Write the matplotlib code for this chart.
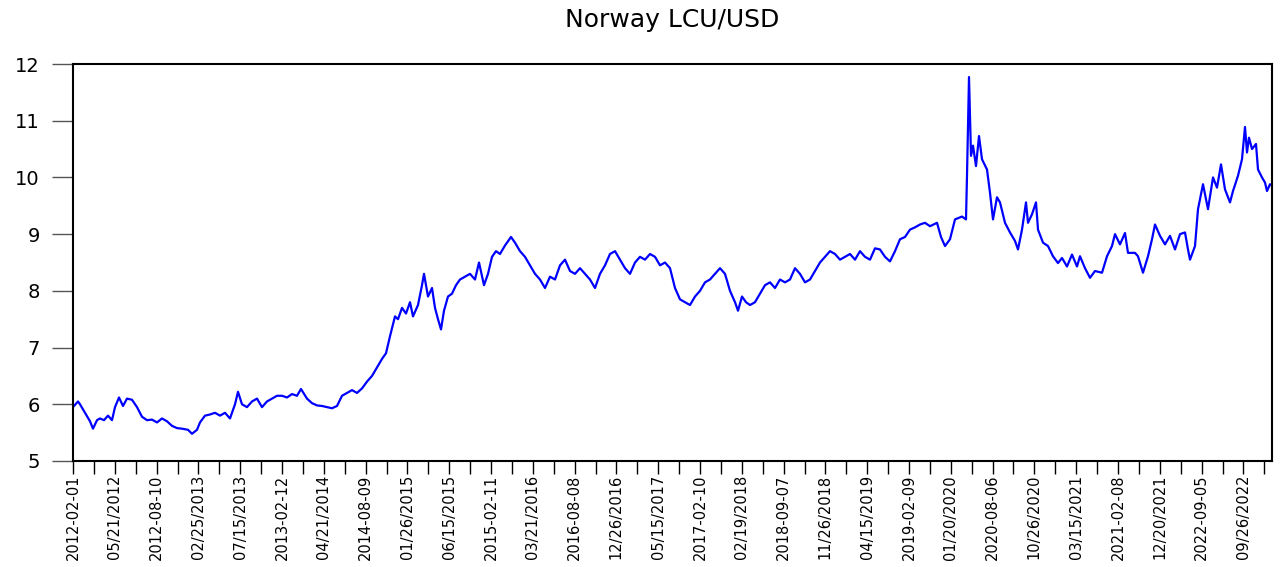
import matplotlib
matplotlib.use("Agg")
import matplotlib.pyplot as plt
import matplotlib.transforms as mtransforms

# observation number (business-day index) and exchange rate values
obs = [0, 10, 14, 24, 34, 40, 48, 54, 62, 70,
       78, 84, 92, 100, 108, 118, 128, 138, 148, 158,
       168, 178, 188, 198, 208, 218, 230, 238, 248, 254,
       264, 274, 284, 294, 304, 314, 324, 330, 338, 348,
       358, 368, 378, 388, 398, 408, 418, 428, 438, 448,
       456, 468, 478, 488, 498, 508, 518, 528, 538, 548,
       558, 568, 578, 588, 598, 608, 618, 626, 634, 644,
       650, 658, 666, 674, 680, 690, 698, 702, 710, 718,
       724, 730, 736, 742, 750, 758, 766, 774, 784, 794,
       804, 812, 822, 830, 838, 846, 854, 864, 876, 884,
       894, 904, 914, 924, 934, 944, 954, 964, 974, 984,
       994, 1004, 1014, 1024, 1034, 1044, 1054, 1064, 1074, 1084,
       1094, 1104, 1114, 1124, 1134, 1144, 1154, 1164, 1174, 1184,
       1194, 1204, 1214, 1224, 1234, 1244, 1254, 1264, 1274, 1284,
       1294, 1304, 1314, 1324, 1330, 1338, 1346, 1354, 1364, 1374,
       1384, 1394, 1404, 1414, 1424, 1434, 1444, 1454, 1464, 1474,
       1484, 1494, 1504, 1514, 1524, 1534, 1544, 1554, 1564, 1574,
       1584, 1594, 1604, 1614, 1624, 1634, 1644, 1654, 1664, 1674,
       1684, 1694, 1704, 1714, 1728, 1736, 1744, 1754, 1764, 1778,
       1786, 1788, 1792, 1796, 1800, 1806, 1812, 1818, 1828, 1834,
       1840, 1848, 1854, 1864, 1874, 1884, 1890, 1898, 1906, 1910,
       1918, 1926, 1930, 1940, 1950, 1960, 1970, 1978, 1988, 1998,
       2008, 2014, 2024, 2034, 2044, 2058, 2068, 2078, 2084, 2094,
       2104, 2110, 2124, 2130, 2140, 2150, 2158, 2164, 2174, 2184,
       2194, 2204, 2214, 2224, 2230, 2234, 2244, 2250, 2260, 2270,
       2280, 2288, 2296, 2304, 2314, 2320, 2330, 2338, 2344, 2348,
       2352, 2358, 2366, 2370, 2378, 2384, 2388, 2394, 2398]

rate = [5.95, 6.05, 6.0, 5.85, 5.7, 5.57, 5.72, 5.75, 5.72, 5.8,
        5.72, 5.95, 6.12, 5.97, 6.1, 6.08, 5.95, 5.78, 5.72, 5.73,
        5.68, 5.75, 5.7, 5.62, 5.58, 5.57, 5.55, 5.48, 5.55, 5.68,
        5.8, 5.82, 5.85, 5.8, 5.85, 5.75, 6.0, 6.22, 6.0, 5.95,
        6.05, 6.1, 5.95, 6.05, 6.1, 6.15, 6.15, 6.12, 6.18, 6.15,
        6.27, 6.1, 6.02, 5.98, 5.97, 5.95, 5.93, 5.97, 6.15, 6.2,
        6.25, 6.2, 6.28, 6.4, 6.5, 6.65, 6.8, 6.9, 7.2, 7.55,
        7.5, 7.7, 7.6, 7.8, 7.55, 7.75, 8.1, 8.3, 7.9, 8.05,
        7.7, 7.5, 7.32, 7.65, 7.9, 7.95, 8.1, 8.2, 8.25, 8.3,
        8.2, 8.5, 8.1, 8.3, 8.6, 8.7, 8.65, 8.8, 8.95, 8.85,
        8.7, 8.6, 8.45, 8.3, 8.2, 8.05, 8.25, 8.2, 8.45, 8.55,
        8.35, 8.3, 8.4, 8.3, 8.2, 8.05, 8.3, 8.45, 8.65, 8.7,
        8.55, 8.4, 8.3, 8.5, 8.6, 8.55, 8.65, 8.6, 8.45, 8.5,
        8.4, 8.05, 7.85, 7.8, 7.75, 7.9, 8.0, 8.15, 8.2, 8.3,
        8.4, 8.3, 8.0, 7.8, 7.65, 7.9, 7.8, 7.75, 7.8, 7.95,
        8.1, 8.15, 8.05, 8.2, 8.15, 8.2, 8.4, 8.3, 8.15, 8.2,
        8.35, 8.5, 8.6, 8.7, 8.65, 8.55, 8.6, 8.65, 8.55, 8.7,
        8.6, 8.55, 8.75, 8.73, 8.6, 8.52, 8.7, 8.91, 8.95, 9.08,
        9.12, 9.17, 9.2, 9.14, 9.2, 8.95, 8.79, 8.91, 9.26, 9.31,
        9.26, 10.03, 11.77, 10.38, 10.56, 10.2, 10.73, 10.32, 10.14, 9.73,
        9.26, 9.65, 9.56, 9.2, 9.03, 8.88, 8.73, 9.08, 9.56, 9.2,
        9.35, 9.56, 9.08, 8.85, 8.79, 8.61, 8.49, 8.58, 8.43, 8.64,
        8.43, 8.61, 8.4, 8.23, 8.35, 8.32, 8.61, 8.79, 9.0, 8.82,
        9.02, 8.67, 8.67, 8.61, 8.32, 8.61, 8.91, 9.17, 8.97, 8.82,
        8.97, 8.73, 9.0, 9.03, 8.73, 8.55, 8.79, 9.44, 9.88, 9.44,
        10.0, 9.82, 10.23, 9.79, 9.56, 9.76, 10.03, 10.32, 10.89, 10.44,
        10.7, 10.5, 10.59, 10.14, 10.0, 9.91, 9.76, 9.88, 9.85]

date_labels = ["2012-02-01", "05/21/2012", "2012-08-10", "02/25/2013", "07/15/2013",
               "2013-02-12", "04/21/2014", "2014-08-09", "01/26/2015", "06/15/2015",
               "2015-02-11", "03/21/2016", "2016-08-08", "12/26/2016", "05/15/2017",
               "2017-02-10", "02/19/2018", "2018-09-07", "11/26/2018", "04/15/2019",
               "2019-02-09", "01/20/2020", "2020-08-06", "10/26/2020", "03/15/2021",
               "2021-02-08", "12/20/2021", "2022-09-05", "09/26/2022"]

y_ticks = [5, 6, 7, 8, 9, 10, 11, 12]
title = "Norway LCU/USD"

plt.rcParams['font.family'] = ['DejaVu Sans']

fig = plt.figure(figsize=(12.8, 5.67), dpi=100)
ax = fig.add_axes([73/1280, (567-461)/567, (1272-73)/1280, (461-64)/567])

ax.plot(obs, rate, color="#0000ff", linewidth=1.6)

ax.set_xlim(0, 2398)
ax.set_ylim(5, 12)

tick_step = 41.8
n_ticks = 2 * len(date_labels)
xt = [i * tick_step for i in range(n_ticks)]
xl = []
for i in range(n_ticks):
    xl.append(date_labels[i // 2] if i % 2 == 0 else "")
ax.set_xticks(xt)
ax.set_xticklabels(xl, rotation=90, fontsize=10.5, va="top", ha="center")
offset = mtransforms.ScaledTranslation(-9/100, 0, fig.dpi_scale_trans)
for lab in ax.get_xticklabels():
    lab.set_transform(lab.get_transform() + offset)

ax.set_yticks(y_ticks)
ax.set_yticklabels([str(v) for v in y_ticks], fontsize=14)

ax.tick_params(axis="x", direction="out", length=9, width=1.0, pad=1, colors="black")
ax.tick_params(axis="y", direction="out", length=15, width=1.0, pad=9, colors="black")
ax.tick_params(axis="y", color="#555555")
for s in ax.spines.values():
    s.set_linewidth(1.5)
    s.set_color("black")

fig.text(672/1280, 1 - 20/567, title, ha="center", va="center", fontsize=18)

fig.savefig("out.png", dpi=100)
